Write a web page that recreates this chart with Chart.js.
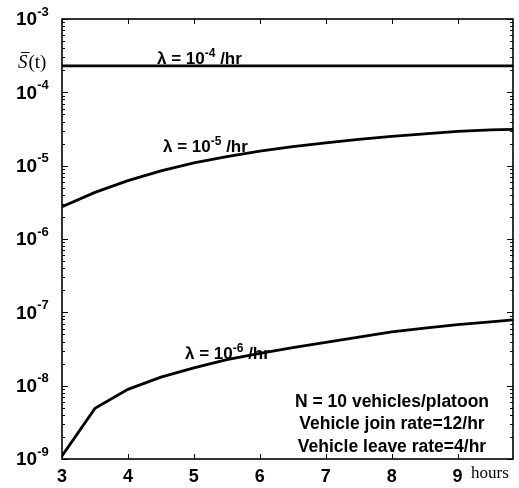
<!DOCTYPE html>
<html>
<head>
<meta charset="utf-8">
<script src="https://cdn.jsdelivr.net/npm/chart.js@4.4.0/dist/chart.umd.min.js"></script>
<style>
  html, body { margin: 0; padding: 0; background: #fff; }
  #wrap { width: 519px; height: 488px; position: relative; }
</style>
</head>
<body>
<div id="wrap"><canvas id="survChart"></canvas></div>
<script>
// time in hours
const hours = [3, 3.5, 4, 4.5, 5, 5.5, 6, 6.5, 7, 7.5, 8, 8.5, 9, 9.5, 9.84];

// S(t) for each failure rate
const lambda4 = [2.3e-4, 2.3e-4, 2.3e-4, 2.3e-4, 2.3e-4, 2.3e-4, 2.3e-4, 2.3e-4, 2.3e-4, 2.3e-4, 2.3e-4, 2.3e-4, 2.3e-4, 2.3e-4, 2.3e-4];
const lambda5 = [2.76e-6, 4.32e-6, 6.25e-6, 8.5e-6, 1.09e-5, 1.33e-5, 1.58e-5, 1.82e-5, 2.05e-5, 2.29e-5, 2.51e-5, 2.71e-5, 2.93e-5, 3.08e-5, 3.13e-5];
const lambda6 = [1.1e-9, 4.9e-9, 8.9e-9, 1.31e-8, 1.75e-8, 2.26e-8, 2.75e-8, 3.3e-8, 3.9e-8, 4.6e-8, 5.4e-8, 6.1e-8, 6.8e-8, 7.4e-8, 7.9e-8];

const xTicks = [3, 4, 5, 6, 7, 8, 9];
const yExponents = [-9, -8, -7, -6, -5, -4, -3];

const curveLabels = [
  { exp: '-4', x: 157, y: 64 },
  { exp: '-5', x: 163, y: 152 },
  { exp: '-6', x: 185, y: 359 }
];
const noteLines = ['N = 10 vehicles/platoon', 'Vehicle join rate=12/hr', 'Vehicle leave rate=4/hr'];

const toPoints = ys => hours.map((h, i) => ({ x: h, y: ys[i] }));

function lineSet(ys) {
  return {
    data: toPoints(ys),
    borderColor: '#000',
    borderWidth: 2.8,
    pointRadius: 0,
    tension: 0,
    fill: false
  };
}

// frame, inward ticks and all the text
const decorations = {
  id: 'decorations',
  afterDraw(chart) {
    const ctx = chart.ctx;
    const a = chart.chartArea;
    const xs = chart.scales.x;
    const ys = chart.scales.y;
    ctx.save();
    ctx.strokeStyle = '#000';
    ctx.fillStyle = '#000';

    // y ticks, major + minor, both sides
    ctx.lineWidth = 1;
    yExponents.forEach(e => {
      for (let m = 1; m <= 9; m++) {
        const v = m * Math.pow(10, e);
        if (v > 1e-3 * 1.0001) break;
        const py = Math.round(ys.getPixelForValue(v)) + 0.5;
        const len = m === 1 ? 6 : 3;
        ctx.beginPath();
        ctx.moveTo(a.left, py); ctx.lineTo(a.left + len, py);
        ctx.moveTo(a.right, py); ctx.lineTo(a.right - len, py);
        ctx.stroke();
      }
    });

    // x ticks top and bottom
    xTicks.forEach(t => {
      const px = Math.round(xs.getPixelForValue(t)) + 0.5;
      ctx.beginPath();
      ctx.moveTo(px, a.bottom); ctx.lineTo(px, a.bottom - 5);
      ctx.moveTo(px, a.top); ctx.lineTo(px, a.top + 5);
      ctx.stroke();
    });

    // frame
    ctx.lineWidth = 1.6;
    ctx.strokeRect(a.left, a.top, a.right - a.left, a.bottom - a.top);

    // y tick labels 10^e
    ctx.textBaseline = 'middle';
    yExponents.forEach(e => {
      const py = ys.getPixelForValue(Math.pow(10, e));
      ctx.font = 'bold 19px "Liberation Sans", Arial, sans-serif';
      ctx.textAlign = 'left';
      ctx.fillText('10', 16, py + 1);
      const w = ctx.measureText('10').width;
      ctx.font = 'bold 13px "Liberation Sans", Arial, sans-serif';
      ctx.fillText(String(e), 16 + w, py - 7);
    });

    // x tick labels
    ctx.font = 'bold 18px "Liberation Sans", Arial, sans-serif';
    ctx.textAlign = 'center';
    ctx.textBaseline = 'alphabetic';
    xTicks.forEach(t => {
      ctx.fillText(String(t), xs.getPixelForValue(t), 482);
    });

    // axis names
    ctx.font = '17px "Liberation Serif", "DejaVu Serif", serif';
    ctx.textAlign = 'left';
    ctx.fillText('hours', 471, 478);
    ctx.font = 'italic 19px "Liberation Serif", "DejaVu Serif", serif';
    ctx.fillText('S', 18, 68);
    const sw = ctx.measureText('S').width;
    ctx.lineWidth = 1;
    ctx.beginPath();
    ctx.moveTo(21, 52.5); ctx.lineTo(20 + sw, 52.5);
    ctx.stroke();
    ctx.font = '19px "Liberation Serif", "DejaVu Serif", serif';
    ctx.fillText('(t)', 18 + sw + 1, 68);

    // curve labels: λ = 10^e /hr
    curveLabels.forEach(c => {
      let x = c.x;
      ctx.font = 'bold 17px "Liberation Sans", Arial, sans-serif';
      ctx.fillText('\u03bb = 10', x, c.y);
      x += ctx.measureText('\u03bb = 10').width;
      ctx.font = 'bold 12px "Liberation Sans", Arial, sans-serif';
      ctx.fillText(c.exp, x, c.y - 7);
      x += ctx.measureText(c.exp).width;
      ctx.font = 'bold 17px "Liberation Sans", Arial, sans-serif';
      ctx.fillText(' /hr', x, c.y);
    });

    // parameter note
    ctx.font = 'bold 17.5px "Liberation Sans", Arial, sans-serif';
    ctx.textAlign = 'center';
    const noteY = [407, 429, 452];
    noteLines.forEach((s, i) => ctx.fillText(s, 392, noteY[i]));

    ctx.restore();
  }
};

new Chart(document.getElementById('survChart').getContext('2d'), {
  type: 'line',
  data: {
    datasets: [lineSet(lambda4), lineSet(lambda5), lineSet(lambda6)]
  },
  options: {
    responsive: true,
    maintainAspectRatio: false,
    animation: false,
    layout: { padding: { left: 54, right: 6, top: 19, bottom: 21 } },
    scales: {
      x: {
        type: 'linear',
        min: 3,
        max: 9.84,
        ticks: { display: false },
        grid: { display: false },
        border: { display: false }
      },
      y: {
        type: 'logarithmic',
        min: 1e-9,
        max: 1e-3,
        ticks: { display: false },
        grid: { display: false },
        border: { display: false }
      }
    },
    plugins: {
      legend: { display: false },
      tooltip: { enabled: false }
    }
  },
  plugins: [decorations]
});
</script>
</body>
</html>
